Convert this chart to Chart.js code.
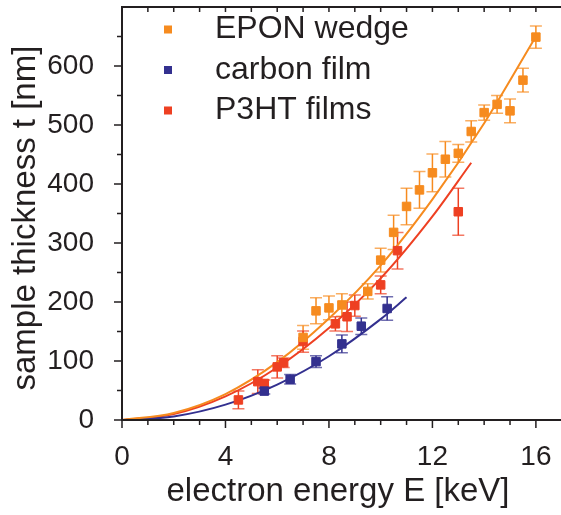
<!DOCTYPE html>
<html>
<head>
<meta charset="utf-8">
<script src="https://cdn.jsdelivr.net/npm/chart.js@4.4.0/dist/chart.umd.min.js"></script>
<style>
  html, body { margin: 0; padding: 0; background: #fff; }
  #wrap { width: 561px; height: 515px; }
</style>
</head>
<body>
<div id="wrap"><canvas id="thickness-chart"></canvas></div>
<script>
const eponE   = [7, 7.5, 8, 8.5, 9.5, 10, 10.5, 11, 11.5, 12, 12.5, 13, 13.5, 14, 14.5, 15, 15.5, 16];
const eponT   = [140, 185, 190, 195, 218, 271, 318, 362, 390, 419, 442, 452, 489, 521, 535, 524, 576, 649];
const eponErr = [20, 22, 20, 19, 13, 20, 29, 31, 31, 32, 30, 15, 18, 13, 15, 20, 20, 19];

const carbonE   = [5.5, 6.5, 7.5, 8.5, 9.25, 10.25];
const carbonT   = [49, 69, 99, 129, 159, 189];
const carbonErr = [5, 8, 10, 15, 14, 20];

const p3htE   = [4.5, 5.25, 5.5, 6, 6.25, 7, 8.25, 8.7, 9, 10, 10.65, 13];
const p3htT   = [34, 65, 62, 90, 97, 133, 163, 175, 194, 229, 287, 353];
const p3htErr = [15, 20, 6, 19, 8, 18, 12, 25, 18, 15, 31, 40];

// fit curves, sampled from the drawn lines
const fitEponE = [0, 2, 4, 6, 8, 10, 12, 14, 16];
const fitEponT = [0, 12, 44, 98, 172, 262, 374, 503, 650];
const fitCarbonE = [0, 2, 4, 6, 8, 10, 11];
const fitCarbonT = [0, 6, 26, 60, 108, 171, 208];
const fitP3htE = [0, 2, 4, 6, 8, 10, 12, 13.5];
const fitP3htT = [0, 10, 40, 89, 156, 240, 345, 436];

const xTicks = [0, 4, 8, 12, 16];
const yTicks = [0, 100, 200, 300, 400, 500, 600];

const ORANGE = '#F68B1F';
const BLUE = '#33308F';
const RED = '#EE4022';
const INK = '#231f20';
const FONT = '"Liberation Sans", Arial, sans-serif';

const pts = (xs, ys) => xs.map((x, i) => ({ x: x, y: ys[i] }));

// error bars + frame/ticks + legend, all placed through the chart scales
const extras = {
  id: 'extras',
  beforeDatasetsDraw(chart) {
    const ctx = chart.ctx, xs = chart.scales.x, ys = chart.scales.y;
    chart.data.datasets.forEach(ds => {
      if (!ds.errors) return;
      ds.data.forEach((p, i) => {
        const px = xs.getPixelForValue(p.x);
        const top = ys.getPixelForValue(p.y + ds.errors[i]);
        const bot = ys.getPixelForValue(p.y - ds.errors[i]);
        ctx.save();
        ctx.strokeStyle = ds.backgroundColor;
        ctx.lineWidth = 1.5;
        ctx.beginPath();
        ctx.moveTo(px, top); ctx.lineTo(px, bot);
        ctx.stroke();
        ctx.globalAlpha = 0.7;
        ctx.beginPath();
        ctx.moveTo(px - 6, top); ctx.lineTo(px + 6, top);
        ctx.moveTo(px - 6, bot); ctx.lineTo(px + 6, bot);
        ctx.stroke();
        ctx.restore();
      });
    });
  },
  afterDraw(chart) {
    const ctx = chart.ctx, xs = chart.scales.x, ys = chart.scales.y, ca = chart.chartArea;
    ctx.save();
    ctx.strokeStyle = INK;
    ctx.lineWidth = 2;
    ctx.beginPath();
    ctx.moveTo(ca.left, ca.top); ctx.lineTo(ca.left, ca.bottom);
    ctx.moveTo(ca.left - 1, ca.bottom); ctx.lineTo(chart.width, ca.bottom);
    ctx.moveTo(ca.left - 1, ca.top); ctx.lineTo(chart.width, ca.top);
    ctx.stroke();
    ctx.lineWidth = 1.5;
    ctx.beginPath();
    for (let e = 0; e <= 16; e++) {
      const px = xs.getPixelForValue(e);
      const len = xTicks.includes(e) ? 8 : 5;
      ctx.moveTo(px, ca.bottom); ctx.lineTo(px, ca.bottom + len);
      ctx.moveTo(px, ca.top); ctx.lineTo(px, ca.top + 5);
    }
    for (let v = 0; v <= 650; v += 50) {
      const py = ys.getPixelForValue(v);
      const len = yTicks.includes(v) ? 8 : 5;
      ctx.moveTo(ca.left, py); ctx.lineTo(ca.left - len, py);
    }
    ctx.stroke();

    // legend inside the plot
    const rows = chart.data.datasets.filter(ds => ds.errors);
    ctx.font = '32px ' + FONT;
    ctx.textBaseline = 'middle';
    rows.forEach((ds, i) => {
      const y = 29.5 + i * 40.5;
      ctx.fillStyle = ds.backgroundColor;
      ctx.fillRect(164, y - 4, 8, 8);
      ctx.fillStyle = INK;
      ctx.fillText(ds.label, 215, y);
    });
    ctx.restore();
  }
};

const fitStyle = {
  type: 'line', showLine: true, pointRadius: 0, borderWidth: 2,
  cubicInterpolationMode: 'monotone', fill: false, order: 2
};
const markStyle = {
  type: 'scatter', pointStyle: 'rect', pointRadius: 6, borderWidth: 1, order: 1
};

const ctx = document.getElementById('thickness-chart');
const chart = new Chart(ctx, {
  data: {
    datasets: [
      Object.assign({ label: 'fit EPON', data: pts(fitEponE, fitEponT), borderColor: ORANGE }, fitStyle),
      Object.assign({ label: 'fit carbon', data: pts(fitCarbonE, fitCarbonT), borderColor: BLUE }, fitStyle),
      Object.assign({ label: 'fit P3HT', data: pts(fitP3htE, fitP3htT), borderColor: RED }, fitStyle),
      Object.assign({ label: 'EPON wedge', data: pts(eponE, eponT), errors: eponErr,
        backgroundColor: ORANGE, borderColor: ORANGE }, markStyle),
      Object.assign({ label: 'carbon film', data: pts(carbonE, carbonT), errors: carbonErr,
        backgroundColor: BLUE, borderColor: BLUE }, markStyle),
      Object.assign({ label: 'P3HT films', data: pts(p3htE, p3htT), errors: p3htErr,
        backgroundColor: RED, borderColor: RED }, markStyle)
    ]
  },
  options: {
    responsive: true,
    maintainAspectRatio: false,
    animation: false,
    layout: { padding: { top: 5, right: 0, left: 0, bottom: 0 } },
    plugins: { legend: { display: false }, tooltip: { enabled: false } },
    scales: {
      x: {
        type: 'linear', min: 0, max: 16.7,
        afterBuildTicks: s => { s.ticks = xTicks.map(v => ({ value: v })); },
        afterFit: s => { s.height = 95; s.paddingLeft = 0; s.paddingRight = 0; },
        grid: { display: false },
        border: { display: false },
        ticks: { color: INK, font: { family: FONT, size: 28 }, padding: 12, maxRotation: 0 },
        title: { display: true, text: 'electron energy E [keV]', color: INK,
          font: { family: FONT, size: 33 }, padding: { top: 0, bottom: 3 } }
      },
      y: {
        type: 'linear', min: 0, max: 700,
        afterBuildTicks: s => { s.ticks = yTicks.map(v => ({ value: v })); },
        afterFit: s => { s.width = 122; s.paddingTop = 0; s.paddingBottom = 0; },
        grid: { display: false },
        border: { display: false },
        ticks: { color: INK, font: { family: FONT, size: 28 }, padding: 20 },
        title: { display: true, text: 'sample thickness t [nm] ', color: INK,
          font: { family: FONT, size: 33 }, padding: { top: 6, bottom: 0 } }
      }
    }
  },
  plugins: [extras]
});
</script>
</body>
</html>
